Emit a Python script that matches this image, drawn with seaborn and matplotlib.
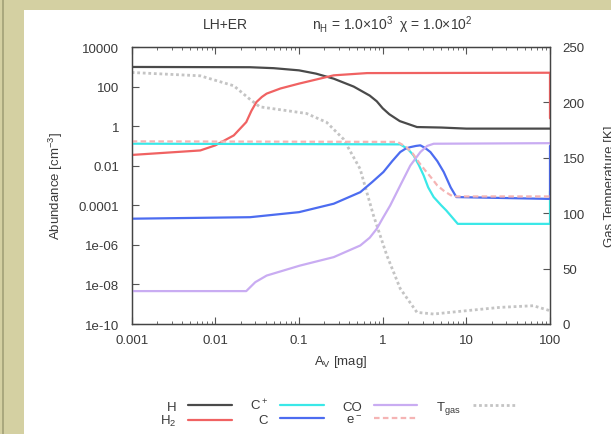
import numpy as np
import pandas as pd
import matplotlib
matplotlib.use("Agg")
import matplotlib.pyplot as plt
from matplotlib.patches import Rectangle
import seaborn as sns

# ---------------- data ----------------
av_H = [0.001, 0.026, 0.05, 0.1, 0.16, 0.26, 0.45, 0.7, 0.85, 1.0, 1.2, 1.6, 2.57, 5, 10, 100]
ab_H = [980, 950, 850, 660, 450, 250, 100, 35, 18, 8, 4, 1.8, 0.9, 0.85, 0.75, 0.75]

av_H2 = [0.001, 0.0066, 0.01, 0.0166, 0.0234, 0.027, 0.031, 0.036, 0.041, 0.06,
         0.1, 0.26, 0.65, 100, 100]
ab_H2 = [0.035, 0.059, 0.107, 0.34, 1.6, 6, 16.6, 30, 44, 80, 141, 370, 480, 500, 2.5]

av_Cp = [0.001, 1.62, 2.0, 2.34, 2.7, 3.09, 3.5, 4.07, 5.0, 5.75, 7.9, 100, 100]
ab_Cp = [0.13, 0.12, 0.07, 0.033, 0.011, 0.0032, 8e-4, 2.6e-4, 1e-4, 5.5e-5,
         1.15e-5, 1.15e-5, 5e-4]

av_C = [0.001, 0.026, 0.1, 0.26, 0.54, 0.75, 1.02, 1.3, 1.62, 1.9, 2.14, 2.5, 2.82,
        3.2, 3.72, 4.5, 5.37, 6.5, 7.6, 100, 100]
ab_C = [2.1e-5, 2.5e-5, 4.5e-5, 1.2e-4, 4.6e-4, 1.5e-3, 4.8e-3, 0.017, 0.049, 0.075,
        0.087, 0.1, 0.107, 0.08, 0.049, 0.017, 4.8e-3, 8e-4, 2.6e-4, 2.1e-4, 0.1]

av_CO = [0.001, 0.0234, 0.03, 0.041, 0.102, 0.26, 0.54, 0.7, 0.85, 1.0, 1.23, 1.62,
         2.14, 2.82, 3.4, 4.07, 100]
ab_CO = [4.6e-9, 4.6e-9, 1.3e-8, 2.8e-8, 8.9e-8, 2.4e-7, 9.3e-7, 2.3e-6, 6.5e-6,
         2.2e-5, 9.8e-5, 1e-3, 0.0102, 0.049, 0.1, 0.129, 0.138]

av_e = [0.001, 1.5, 1.9, 2.3, 2.7, 3.2, 3.8, 4.5, 5.5, 6.9, 100]
ab_e = [0.17, 0.16, 0.09, 0.04, 0.015, 0.006, 2.5e-3, 1e-3, 5e-4, 2.8e-4, 2.8e-4]

av_T = [0.001, 0.0066, 0.0166, 0.0257, 0.034, 0.065, 0.123, 0.214, 0.339, 0.537,
        0.776, 1.12, 1.62, 2.57, 4.07, 10, 25.1, 63.1, 100]
T_gas = [227, 224, 215, 203, 196, 193, 190, 182, 167, 140, 98, 62, 32, 10.5, 9,
         12, 15, 16.5, 12]

series = [
    ("H", av_H, ab_H),
    ("H$_2$", av_H2, ab_H2),
    ("C$^+$", av_Cp, ab_Cp),
    ("C", av_C, ab_C),
    ("CO", av_CO, ab_CO),
    ("e$^-$", av_e, ab_e),
]
colors = {"H": "#4a4a4a", "H$_2$": "#f06262", "C$^+$": "#3ae8e8",
          "C": "#4c6cf0", "CO": "#c9acf2", "e$^-$": "#f5b4b4"}

x_ticks = [0.001, 0.01, 0.1, 1, 10, 100]
x_ticklabels = ["0.001", "0.01", "0.1", "1", "10", "100"]
y_ticks = [1e4, 1e2, 1, 1e-2, 1e-4, 1e-6, 1e-8, 1e-10]
y_ticklabels = ["10000", "100", "1", "0.01", "0.0001", "1e-06", "1e-08", "1e-10"]
t_ticks = [0, 50, 100, 150, 200, 250]

# ---------------- style ----------------
sns.set_style("white")
plt.rcParams["font.family"] = ["Liberation Sans", "DejaVu Sans"]
plt.rcParams["mathtext.fontset"] = "custom"
plt.rcParams["mathtext.rm"] = "Liberation Sans"
plt.rcParams["mathtext.it"] = "Liberation Sans"
TXT = "#3a3a3a"

fig = plt.figure(figsize=(6.11, 4.35), dpi=100)
fig.patch.set_facecolor("#d4d0a2")
W, H = 611, 435
fig.patches.append(Rectangle((2 / W, 0), 2 / W, 1, transform=fig.transFigure,
                             facecolor="#aaa87e", edgecolor="none", zorder=-10))
fig.patches.append(Rectangle((24 / W, 0), 1, 1 - 11 / H, transform=fig.transFigure,
                             facecolor="white", edgecolor="none", zorder=-10))

ax = fig.add_axes([131.7 / W, 1 - 325 / H, (550 - 131.7) / W, (325 - 48) / H])
ax.set_facecolor("none")
ax.set_zorder(2)

handles = []
for name, xs, ys in series:
    df = pd.DataFrame({"Av": xs, "n": ys})
    ls = (0, (2.5, 1.5)) if name == "e$^-$" else "-"
    sns.lineplot(data=df, x="Av", y="n", ax=ax, color=colors[name], lw=1.6,
                 estimator=None, sort=False, linestyle=ls, label=name, legend=False)
    handles.append(ax.lines[-1])

ax.set_xscale("log")
ax.set_yscale("log")
ax.set_xlim(0.001, 100)
ax.set_ylim(1e-10, 1e4)

ax2 = ax.twinx()
ax2.set_zorder(1)
ax2.set_facecolor("none")
dft = pd.DataFrame({"Av": av_T, "T": T_gas})
sns.lineplot(data=dft, x="Av", y="T", ax=ax2, color="#c4c4c4", lw=2.0,
             estimator=None, sort=False, linestyle=(0, (1, 1)), legend=False)
handles.append(ax2.lines[-1])
ax2.set_ylim(0, 250)
ax2.set_xlim(0.001, 100)

# ticks
ax.set_xticks(x_ticks)
ax.set_xticklabels(x_ticklabels)
ax.set_yticks(y_ticks)
ax.set_yticklabels(y_ticklabels)
ax.yaxis.set_minor_locator(matplotlib.ticker.NullLocator())
ax.tick_params(axis="x", which="both", direction="in", top=True, bottom=True,
               colors="#555555", labelcolor=TXT, labelsize=9.5, pad=7)
ax.tick_params(axis="x", which="major", length=5, width=0.8)
ax.tick_params(axis="x", which="minor", length=2.5, width=0.6)
ax.tick_params(axis="y", which="major", direction="in", left=True, right=False,
               length=5, width=0.8, colors="#555555", labelcolor=TXT,
               labelsize=9.5, pad=9)
ax2.set_yticks(t_ticks)
ax2.tick_params(axis="y", direction="in", length=5, width=0.8, colors="#555555",
                labelcolor=TXT, labelsize=9.5, pad=9)
for a in (ax, ax2):
    for s in a.spines.values():
        s.set_color("#444444")
        s.set_linewidth(0.9)

ax.set_xlabel("A$_V$ [mag]", color=TXT, fontsize=9.5, labelpad=5)
ax.set_ylabel("Abundance [cm$^{-3}$]", color=TXT, fontsize=9.5, labelpad=10)
ax2.set_ylabel("Gas Temperature [K]", color=TXT, fontsize=9.5, labelpad=14)

fig.text(225 / W, 1 - 25 / H, "LH+ER", ha="center", va="center", fontsize=10, color=TXT)
fig.text(392 / W, 1 - 25 / H, "n$_H$ = 1.0×10$^3$  χ = 1.0×10$^2$",
         ha="center", va="center", fontsize=10, color=TXT)

labels = ["H", "H$_2$", "C$^+$", "C", "CO", "e$^-$", "T$_{gas}$"]
leg = fig.legend(handles, labels, loc="center", bbox_to_anchor=(338 / W, 1 - 414 / H),
                 ncol=4, frameon=False, markerfirst=False, fontsize=9.5,
                 handlelength=3.3, columnspacing=1.4, labelspacing=0.05,
                 handletextpad=0.9, borderpad=0)
for t in leg.get_texts():
    t.set_color(TXT)

fig.savefig("out.png", dpi=100, facecolor=fig.get_facecolor())
